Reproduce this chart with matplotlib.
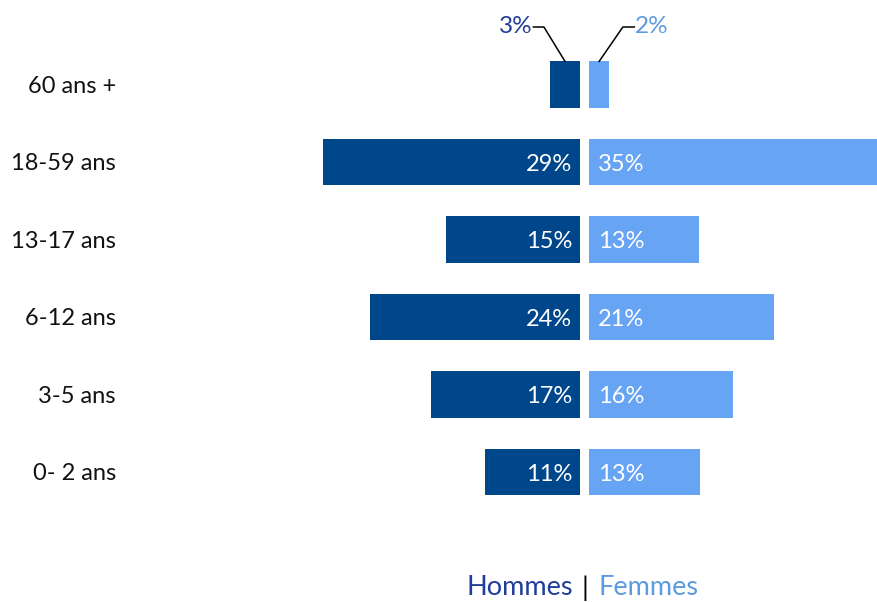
import matplotlib
matplotlib.use("Agg")
import matplotlib.pyplot as plt

categories = ["60 ans +", "18-59 ans", "13-17 ans", "6-12 ans", "3-5 ans", "0- 2 ans"]
hommes = [3.4, 29.2, 15.2, 23.9, 16.9, 10.8]
femmes = [2.3, 35.0, 12.5, 21.0, 16.4, 12.6]
hommes_labels = ["3%", "29%", "15%", "24%", "17%", "11%"]
femmes_labels = ["2%", "35%", "13%", "21%", "16%", "13%"]

C_H = "#00468A"
C_F = "#67A4F4"
C_H_TXT = "#1F3D99"
C_F_TXT = "#5B9BDF"

plt.rcParams['font.family'] = ['Lato', 'DejaVu Sans']

fig = plt.figure(figsize=(8.78, 6.02), dpi=100)
ax = fig.add_axes([0, 0, 1, 1])
ppu = 8.8  # pixels per percent
ax.set_xlim(-580 / ppu, (878 - 580) / ppu)
ax.set_ylim((602 - 84.5) / 77.5, -84.5 / 77.5)
ax.axis("off")

gap = 9 / ppu
h = 0.595
ys = list(range(len(categories)))

ax.barh(ys, [-v for v in hommes], left=0, height=h, color=C_H, edgecolor="none")
ax.barh(ys, femmes, left=gap, height=h, color=C_F, edgecolor="none")

fs = 17
for i, (cat, vh, vf, lh, lf) in enumerate(zip(categories, hommes, femmes, hommes_labels, femmes_labels)):
    ax.text(-(580 - 116) / ppu, i + 0.02, cat, ha="right", va="center", fontsize=fs, color="#111111")
    if i == 0:
        yt = i - h / 2
        ye = (27 - 84.5) / 77.5
        x0 = -vh / 2
        ax.plot([x0, x0 - 2.4, x0 - 3.6], [yt, ye, ye], color="black", lw=1.1)
        ax.text(x0 - 3.7, ye, lh, ha="right", va="center", fontsize=17.5, color=C_H_TXT)
        x1 = gap + vf / 2
        ax.plot([x1, x1 + 2.7, x1 + 4.0], [yt, ye, ye], color="black", lw=1.1)
        ax.text(x1 + 4.1, ye, lf, ha="left", va="center", fontsize=17.5, color=C_F_TXT)
    else:
        ax.text(-8 / ppu, i + 0.03, lh, ha="right", va="center", fontsize=fs, color="white")
        ax.text(gap + 9 / ppu, i + 0.03, lf, ha="left", va="center", fontsize=fs, color="white")

# legend
yl = (588 - 84.5) / 77.5
ax.text((573 - 580) / ppu, yl, "Hommes", ha="right", va="center", fontsize=19.5, color=C_H_TXT)
ax.text((585 - 580) / ppu, yl, "|", ha="center", va="center", fontsize=19.5, color="black")
ax.text((599 - 580) / ppu, yl, "Femmes", ha="left", va="center", fontsize=19.5, color=C_F_TXT)

fig.savefig("out.png", dpi=100)
